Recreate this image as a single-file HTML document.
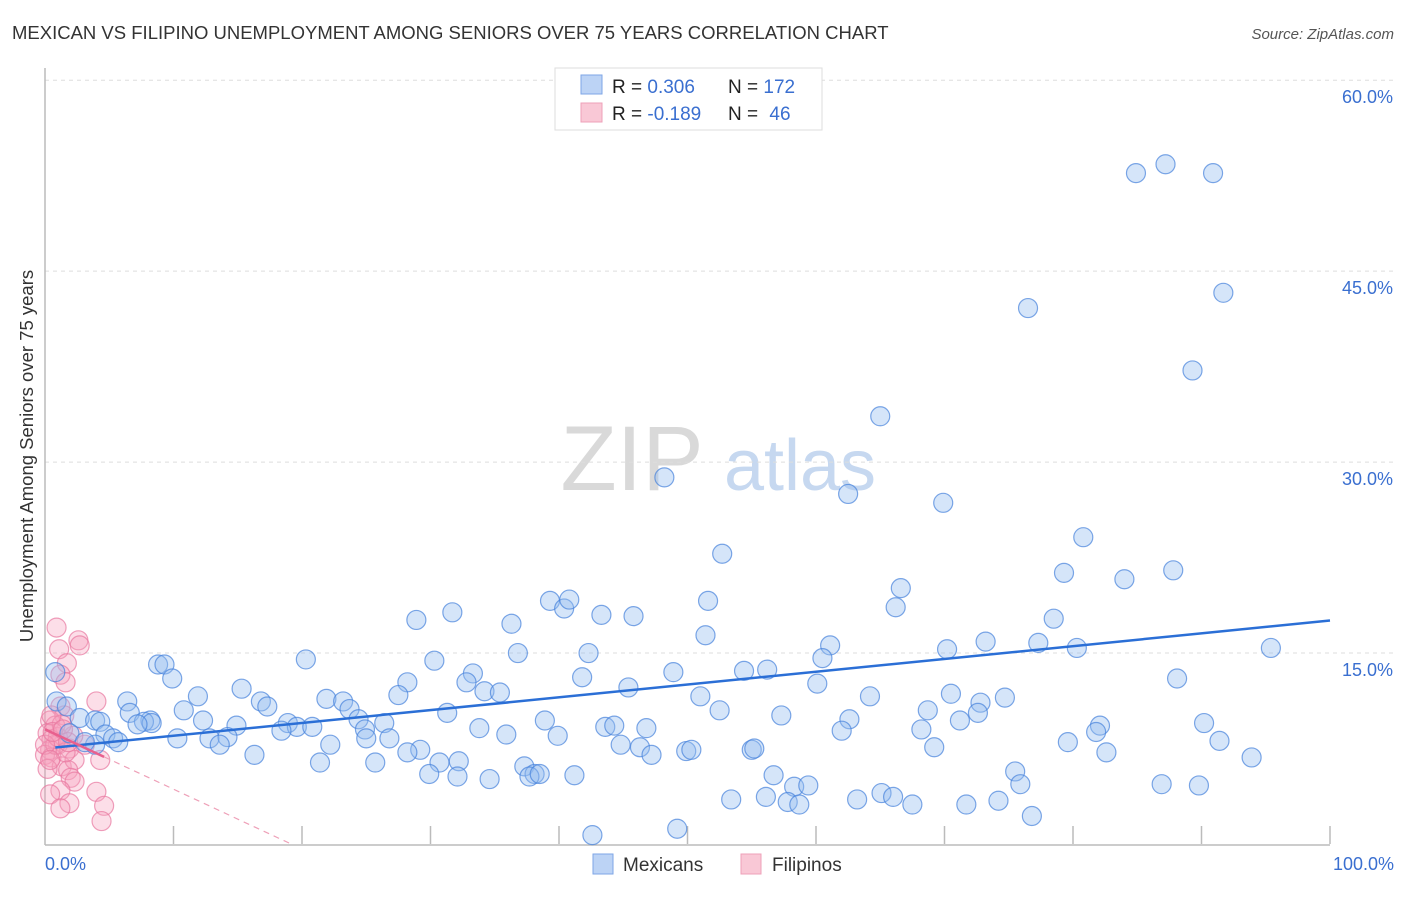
<!DOCTYPE html>
<html><head><meta charset="utf-8"><style>
body{margin:0;background:#fff;font-family:"Liberation Sans",sans-serif;}
svg text{font-family:"Liberation Sans",sans-serif;}
</style></head><body>
<svg id="chart" width="1406" height="892" viewBox="0 0 1406 892">
<text x="12" y="39" font-size="18.5" fill="#333">MEXICAN VS FILIPINO UNEMPLOYMENT AMONG SENIORS OVER 75 YEARS CORRELATION CHART</text>
<text x="1394" y="39" font-size="15" fill="#555" font-style="italic" text-anchor="end">Source: ZipAtlas.com</text>
<g><text x="632" y="490" font-size="92" font-family="Liberation Serif" fill="#d9d9d9" text-anchor="middle">ZIP</text><text x="800" y="490" font-size="72" fill="#c6d8f0" text-anchor="middle">atlas</text></g>
<g id="grid"></g><g id="axes"></g><g id="pts"></g><g id="trend"></g>
<text transform="translate(33,456) rotate(-90)" font-size="18.5" fill="#333" text-anchor="middle">Unemployment Among Seniors over 75 years</text>
<text x="45" y="870" font-size="18" fill="#3a6fd0">0.0%</text>
<text x="1394" y="870" font-size="18" fill="#3a6fd0" text-anchor="end">100.0%</text>
<g>
<rect x="555" y="68" width="267" height="62" fill="#fff" stroke="#ddd"/>
<rect x="581" y="75" width="21" height="19" fill="#bcd3f5" stroke="#7ea6e6"/>
<rect x="581" y="103" width="21" height="19" fill="#f9c8d6" stroke="#eea0b8"/>
<text x="612" y="93" font-size="19" fill="#222">R = <tspan fill="#3a6fd0">0.306</tspan><tspan x="728">N = </tspan><tspan fill="#3a6fd0">172</tspan></text>
<text x="612" y="120" font-size="19" fill="#222">R = <tspan fill="#3a6fd0">-0.189</tspan><tspan x="728">N = </tspan><tspan fill="#3a6fd0" dx="6">46</tspan></text>
</g>
<g>
<rect x="593" y="854" width="20" height="20" fill="#bcd3f5" stroke="#7ea6e6"/>
<text x="623" y="871" font-size="19" fill="#333">Mexicans</text>
<rect x="741" y="854" width="20" height="20" fill="#f9c8d6" stroke="#eea0b8"/>
<text x="772" y="871" font-size="19" fill="#333">Filipinos</text>
</g>
</svg>
<script>
const yTicks=[15,30,45,60];
const yTickLabels=["15.0%","30.0%","45.0%","60.0%"];
const xTicks=[0,10,20,30,40,50,60,70,80,90,100];
const blueX=[84.9,87.2,90.9,91.7,76.5,89.3,65.0,48.2,62.5,69.9,52.7,80.8,79.3,84.0,87.8,66.6,66.2,51.6,39.3,40.4,40.8,43.3,45.8,31.7,28.9,36.3,51.4,61.1,60.5,78.5,73.2,77.3,70.2,80.3,95.4,42.3,36.8,30.3,20.3,8.8,9.3,9.9,33.3,32.8,34.2,35.4,28.2,27.5,41.8,45.4,48.9,54.4,56.2,60.1,64.2,51.0,70.5,74.7,88.1,72.8,72.6,68.7,71.2,52.5,57.3,62.6,6.4,11.9,15.3,16.8,17.3,21.9,23.2,23.7,10.8,6.6,8.2,7.7,8.3,7.2,12.3,14.9,18.9,19.6,20.8,18.4,24.4,24.9,26.4,25.0,26.8,31.3,38.9,43.6,44.3,46.8,33.8,35.9,39.9,68.2,62.0,82.1,81.8,90.2,12.8,14.2,10.3,13.6,22.2,29.2,28.2,30.7,32.2,21.4,25.7,16.3,44.8,46.3,47.2,49.9,50.3,55.0,55.2,69.2,79.6,91.4,82.6,93.9,37.3,38.1,37.7,38.5,29.9,32.1,34.6,41.2,56.7,58.3,59.4,75.5,75.9,86.9,89.8,53.4,56.1,57.8,58.7,63.2,65.1,66.0,67.5,71.7,74.2,76.8,42.6,49.2,0.8,0.9,1.7,2.7,1.9,3.9,4.3,4.7,5.3,5.7,3.9,3.1];
const blueY=[52.7,53.4,52.7,43.3,42.1,37.2,33.6,28.8,27.5,26.8,22.8,24.1,21.3,20.8,21.5,20.1,18.6,19.1,19.1,18.5,19.2,18.0,17.9,18.2,17.6,17.3,16.4,15.6,14.6,17.7,15.9,15.8,15.3,15.4,15.4,15.0,15.0,14.4,14.5,14.1,14.1,13.0,13.4,12.7,12.0,11.9,12.7,11.7,13.1,12.3,13.5,13.6,13.7,12.6,11.6,11.6,11.8,11.5,13.0,11.1,10.3,10.5,9.7,10.5,10.1,9.8,11.2,11.6,12.2,11.2,10.8,11.4,11.2,10.6,10.5,10.3,9.7,9.6,9.5,9.4,9.7,9.3,9.5,9.2,9.2,8.9,9.8,9.0,9.5,8.3,8.3,10.3,9.7,9.2,9.3,9.1,9.1,8.6,8.5,9.0,8.9,9.3,8.8,9.5,8.3,8.4,8.3,7.8,7.8,7.4,7.2,6.4,6.5,6.4,6.4,7.0,7.8,7.6,7.0,7.3,7.4,7.4,7.5,7.6,8.0,8.1,7.2,6.8,6.1,5.5,5.3,5.5,5.5,5.3,5.1,5.4,5.4,4.5,4.6,5.7,4.7,4.7,4.6,3.5,3.7,3.3,3.1,3.5,4.0,3.7,3.1,3.1,3.4,2.2,0.7,1.2,13.5,11.2,10.8,9.9,8.7,9.7,9.6,8.6,8.3,8.0,7.8,8.0];
const pinkX=[0.9,1.1,2.6,2.7,1.7,1.2,1.6,4.0,1.2,1.5,0.4,0.8,0.2,0.5,1.0,1.9,0.4,0,0.5,1.3,2.3,3.1,4.3,1.8,2.0,2.3,1.2,0.4,4.0,4.6,1.9,1.2,4.4,0.8,1.0,0.2,1.6,2.2,1.3,0.5,0,0.4,0.6,1.8,1.4];
const pinkY=[17.0,15.3,16.0,15.6,14.2,13.3,12.7,11.2,10.8,10.1,9.7,9.3,8.7,8.2,7.8,7.5,7.4,7.0,6.8,6.1,6.6,7.8,6.6,5.8,5.2,4.9,4.2,3.9,4.1,3.0,3.2,2.8,1.8,7.8,8.4,5.9,7.2,8.5,9.4,10.1,7.8,6.6,8.8,8.0,9.0];
const X0=45,X1=1330,Y0=844,PPY=12.73;
const sx=v=>X0+(X1-X0)*v/100, sy=v=>Y0-v*PPY;
const NS="http://www.w3.org/2000/svg";
function mk(tag,attrs,parent){const e=document.createElementNS(NS,tag);for(const k in attrs)e.setAttribute(k,attrs[k]);parent.appendChild(e);return e;}
const grid=document.getElementById('grid'),axes=document.getElementById('axes'),pts=document.getElementById('pts'),tr=document.getElementById('trend');
yTicks.forEach((t,i)=>{
 const l=mk('line',{x1:X0,x2:1394,y1:sy(t),y2:sy(t),stroke:'#ddd','stroke-dasharray':'4,4'},grid);
 
 
 const tx=mk('text',{x:1393,y:sy(t)+23,'font-size':18,fill:'#3a6fd0','text-anchor':'end'},grid);
 tx.textContent=yTickLabels[i];
 
 
});
const ya=mk('line',{x1:X0,x2:X0,y1:68,y2:Y0+1,stroke:'#bbb','stroke-width':1.5},axes);


const xa=mk('line',{x1:X0,x2:X1,y1:Y0+1,y2:Y0+1,stroke:'#bbb','stroke-width':1.5},axes);


xTicks.forEach(t=>{if(t===0)return;const l=mk('line',{x1:sx(t),x2:sx(t),y1:Y0-18,y2:Y0,stroke:'#bbb','stroke-width':1.5},axes);
 
 });
function dots(xs,ys,fill,stroke,name){xs.forEach((v,i)=>{const c=mk('circle',{cx:sx(v),cy:sy(ys[i]),r:9.5,fill:fill,stroke:stroke,'stroke-width':1.2},pts);
 
 });}
dots(pinkX,pinkY,'rgba(245,160,190,0.35)','rgba(232,120,160,0.7)','filipino-point');
dots(blueX,blueY,'rgba(150,190,240,0.4)','rgba(70,130,220,0.7)','mexican-point');
function fit(xs,ys){const n=xs.length;let mx=0,my=0;xs.forEach((v,i)=>{mx+=v;my+=ys[i];});mx/=n;my/=n;let a=0,b=0;xs.forEach((v,i)=>{a+=(v-mx)*(ys[i]-my);b+=(v-mx)*(v-mx);});const s=a/b;return [s,my-s*mx];}
const [bs,bi]=fit(blueX,blueY);
const bl=mk('line',{x1:sx(0.8),y1:sy(bi+bs*0.8),x2:sx(100),y2:sy(bi+bs*100),stroke:'#2b6fd6','stroke-width':2.5},tr);


const [ps,pi]=fit(pinkX,pinkY);
const pxMax=Math.max(...pinkX);
const pl=mk('line',{x1:sx(0),y1:sy(pi),x2:sx(pxMax),y2:sy(pi+ps*pxMax),stroke:'#e8608e','stroke-width':2.5},tr);


const xz=ps<0?-pi/ps:pxMax;
const pd=mk('line',{x1:sx(pxMax),y1:sy(pi+ps*pxMax),x2:sx(xz),y2:sy(0),stroke:'#eea0b8','stroke-width':1.2,'stroke-dasharray':'6,5'},tr);


</script>
</body></html>
